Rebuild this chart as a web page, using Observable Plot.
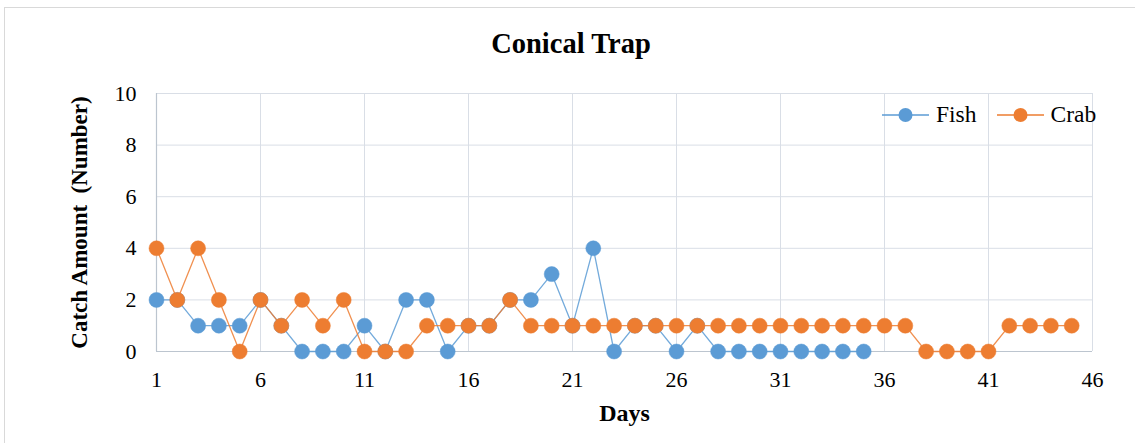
<!DOCTYPE html>
<html>
<head>
<meta charset="utf-8">
<script src="https://cdn.jsdelivr.net/npm/d3@7"></script>
<script src="https://cdn.jsdelivr.net/npm/@observablehq/plot@0.6"></script>
<style>
  html, body { margin: 0; padding: 0; background: #fff; }
  body { width: 1135px; height: 443px; overflow: hidden; position: relative; font-family: "Liberation Serif", "Times New Roman", serif; }
  #frame { position: absolute; left: 4px; top: 7px; width: 1200px; height: 500px; border: 1px solid #d9d9d9; box-sizing: border-box; }
  #title { position: relative; height: 75px; line-height: 87px; overflow: visible; text-align: center; font-size: 28.5px; font-weight: bold; width: 1142px; color: #000; }
  #chart { position: relative; }
  #legend { position: absolute; top: 101px; left: 882px; display: flex; align-items: center; font-size: 23.5px; color: #000; }
  .item { display: flex; align-items: center; margin-right: 20px; }
  .item svg { margin-right: 7px; }
</style>
</head>
<body>
<div id="frame"></div>
<div id="title">Conical Trap</div>
<div id="chart"></div>
<div id="legend"></div>
<script>
// ---- data ----
const days = d3.range(1, 46);
const fishValues = [2,2,1,1,1,2,1,0,0,0,1,0,2,2,0,1,1,2,2,3,1,4,0,1,1,0,1,0,0,0,0,0,0,0,0];
const crabValues = [4,2,4,2,0,2,1,2,1,2,0,0,0,1,1,1,1,2,1,1,1,1,1,1,1,1,1,1,1,1,1,1,1,1,1,1,1,0,0,0,0,1,1,1,1];
const xTicks = [1,6,11,16,21,26,31,36,41,46];
const yTicks = [0,2,4,6,8,10];
const seriesNames = ["Fish", "Crab"];
const seriesColors = ["#5B9BD5", "#ED7D31"];

const fish = fishValues.map((v, i) => ({day: days[i], value: v}));
const crab = crabValues.map((v, i) => ({day: days[i], value: v}));

const grid = "#d9dee6";
const axisLine = "#bcc5cf";

const chart = Plot.plot({
  width: 1135,
  height: 368,
  marginLeft: 156,
  marginRight: 43,
  marginTop: 18,
  marginBottom: 92,
  style: {fontFamily: "'Liberation Serif', 'Times New Roman', serif", fontSize: "22px", color: "#000", background: "transparent"},
  x: {domain: [1, 46]},
  y: {domain: [0, 10]},
  marks: [
    Plot.gridX(xTicks, {stroke: grid, strokeOpacity: 1, strokeWidth: 1}),
    Plot.gridY(yTicks, {stroke: grid, strokeOpacity: 1, strokeWidth: 1}),
    Plot.ruleX([1], {stroke: axisLine, strokeWidth: 1.2}),
    Plot.ruleY([0], {stroke: axisLine, strokeWidth: 1.2}),
    Plot.axisX(xTicks, {tickSize: 0, tickPadding: 20, label: null, fill: "#000", fontSize: 22}),
    Plot.axisY(yTicks, {tickSize: 0, tickPadding: 20, label: null, fill: "#000", fontSize: 22}),
    Plot.text(["Days"], {frameAnchor: "bottom", dy: 62, lineAnchor: "middle", textAnchor: "middle", fontWeight: "bold", fontSize: 24, fill: "#000"}),
    Plot.text(["Catch Amount  (Number)"], {frameAnchor: "left", dx: -77, rotate: -90, lineAnchor: "middle", textAnchor: "middle", fontWeight: "bold", fontSize: 23, fill: "#000"}),
    Plot.line(fish, {x: "day", y: "value", stroke: seriesColors[0], strokeWidth: 1.3, strokeOpacity: 0.85}),
    Plot.dot(fish, {x: "day", y: "value", r: 7.5, fill: seriesColors[0], stroke: seriesColors[0], strokeWidth: 0.5}),
    Plot.line(crab, {x: "day", y: "value", stroke: seriesColors[1], strokeWidth: 1.3, strokeOpacity: 0.85}),
    Plot.dot(crab, {x: "day", y: "value", r: 7.5, fill: seriesColors[1], stroke: seriesColors[1], strokeWidth: 0.5})
  ]
});
document.getElementById("chart").appendChild(chart);

// legend
const legend = document.getElementById("legend");
seriesNames.forEach((name, i) => {
  const item = document.createElement("div");
  item.className = "item";
  item.innerHTML = `<svg width="47" height="18"><line x1="0" x2="47" y1="9" y2="9" stroke="${seriesColors[i]}" stroke-width="1.3"/><circle cx="23.5" cy="9" r="7" fill="${seriesColors[i]}"/></svg><span>${name}</span>`;
  legend.appendChild(item);
});
</script>
</body>
</html>
